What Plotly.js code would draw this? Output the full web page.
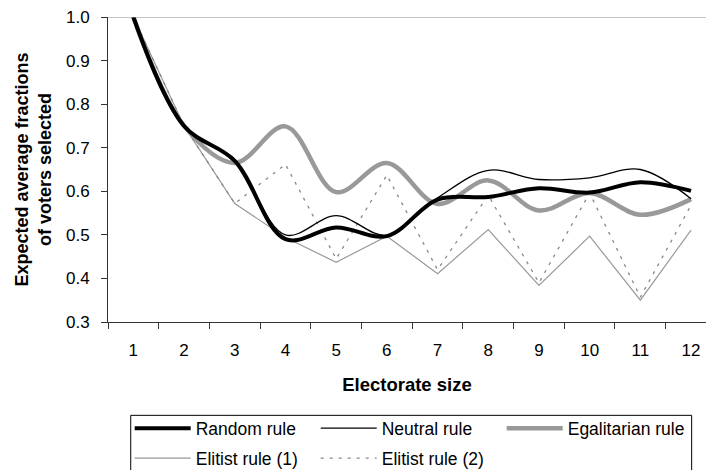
<!DOCTYPE html>
<html>
<head>
<meta charset="utf-8">
<script src="https://cdn.plot.ly/plotly-3.0.1.min.js"></script>
<style>html,body{margin:0;padding:0;background:#fff;}#chart{width:706px;height:470px;}</style>
</head>
<body>
<div id="chart"></div>
<script>
var electorateSize = [1, 2, 3, 4, 5, 6, 7, 8, 9, 10, 11, 12];
var randomRule      = [1.0, 0.75, 0.67, 0.49, 0.517, 0.497, 0.581, 0.587, 0.607, 0.597, 0.621, 0.601];
var neutralRule     = [1.0, 0.75, 0.67, 0.50, 0.544, 0.499, 0.585, 0.648, 0.627, 0.631, 0.650, 0.583];
var egalitarianRule = [1.0, 0.75, 0.665, 0.749, 0.598, 0.665, 0.571, 0.625, 0.556, 0.596, 0.546, 0.582];
var elitistRule1    = [1.0, 0.75, 0.572, 0.494, 0.437, 0.497, 0.411, 0.512, 0.384, 0.497, 0.350, 0.511];
var elitistRule2    = [1.0, 0.75, 0.572, 0.662, 0.445, 0.637, 0.420, 0.591, 0.390, 0.596, 0.357, 0.568];
var seriesNames = ['Random rule', 'Neutral rule', 'Egalitarian rule', 'Elitist rule (1)', 'Elitist rule (2)'];

var FONT = 'Liberation Sans, Arial, sans-serif';

var tRandom = {x: electorateSize, y: randomRule, name: seriesNames[0], mode: 'lines', legendrank: 1,
   line: {color: '#000000', width: 4, shape: 'spline', smoothing: 1}, legend: 'legend'};
var tNeutral = {x: electorateSize, y: neutralRule, name: seriesNames[1], mode: 'lines', legendrank: 2,
   line: {color: '#000000', width: 1.3, shape: 'spline', smoothing: 1}, legend: 'legend'};
var tEgal = {x: electorateSize, y: egalitarianRule, name: seriesNames[2], mode: 'lines', legendrank: 3,
   line: {color: '#999999', width: 4.5, shape: 'spline', smoothing: 1}, legend: 'legend'};
var tElit1 = {x: electorateSize, y: elitistRule1, name: seriesNames[3], mode: 'lines', legendrank: 4,
   line: {color: '#999999', width: 1.2}, legend: 'legend2'};
var tElit2 = {x: electorateSize, y: elitistRule2, name: seriesNames[4], mode: 'lines', legendrank: 5,
   line: {color: '#888888', width: 1.3, dash: '3px,6px'}, legend: 'legend2'};
// draw order: elitist lines underneath
var traces = [tElit1, tElit2, tEgal, tNeutral, tRandom];

var legendCommon = {
  orientation: 'h', xanchor: 'left', yanchor: 'middle',
  entrywidth: 115, entrywidthmode: 'pixels', itemwidth: 56,
  font: {family: FONT, size: 17.5, color: '#000'},
  bgcolor: 'rgba(0,0,0,0)', borderwidth: 0, traceorder: 'normal'
};

var layout = {
  width: 706, height: 470,
  margin: {l: 108, r: 0, t: 17, b: 148, autoexpand: false},
  paper_bgcolor: '#fff', plot_bgcolor: '#fff',
  font: {family: FONT, size: 17, color: '#000'},
  showlegend: true,
  xaxis: {
    range: [0.5, 12.295], tick0: 1, dtick: 1, tickmode: 'linear',
    showgrid: false, zeroline: false, showline: true, linecolor: '#333', linewidth: 1,
    ticks: '', ticklabelstandoff: 13,
    minor: {ticks: 'outside', ticklen: 6, tick0: 0.5, dtick: 1, tickcolor: '#333', tickwidth: 1, showgrid: false},
    tickfont: {family: FONT, size: 17},
    title: {text: '<b>Electorate size</b>', font: {family: FONT, size: 18.5}, standoff: 18},
    automargin: false, fixedrange: true
  },
  yaxis: {
    range: [0.3, 1.0], tick0: 0.3, dtick: 0.1, tickformat: '.1f',
    showgrid: false, zeroline: false, showline: true, linecolor: '#333', linewidth: 1,
    ticks: 'outside', ticklen: 6, tickcolor: '#333', ticklabelstandoff: 8,
    tickfont: {family: FONT, size: 17},
    title: {text: '<b>Expected average fractions<br>of voters selected</b>', font: {family: FONT, size: 18}, standoff: 9},
    automargin: false, fixedrange: true
  },
  legend: Object.assign({}, legendCommon, {x: 0.0363, y: -0.3485}),
  legend2: Object.assign({}, legendCommon, {x: 0.0363, y: -0.447}),
  shapes: [
    {type: 'line', xref: 'paper', yref: 'y', x0: 0, x1: 1, y0: 1.0, y1: 1.0,
     line: {color: '#8c8c8c', width: 1}},
    {type: 'rect', xref: 'paper', yref: 'paper', x0: 0.038, x1: 0.976, y0: -0.306, y1: -0.55,
     line: {color: '#000', width: 1}, fillcolor: 'rgba(0,0,0,0)', layer: 'above'}
  ]
};

Plotly.newPlot('chart', traces, layout, {staticPlot: true, displayModeBar: false});
</script>
</body>
</html>
